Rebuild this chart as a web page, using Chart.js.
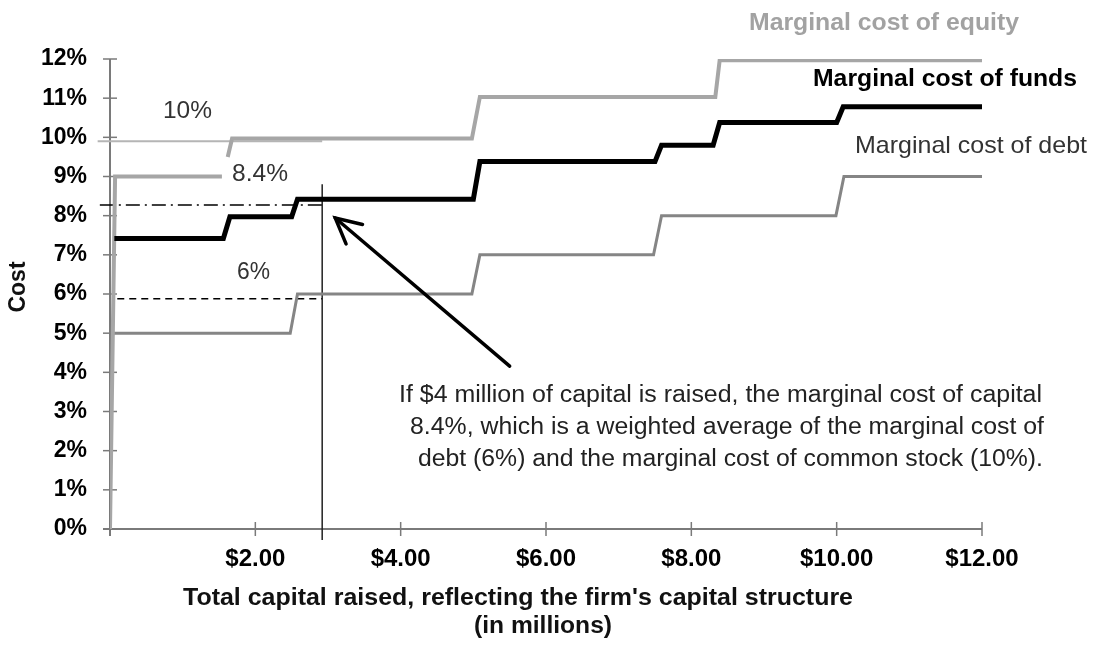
<!DOCTYPE html>
<html><head><meta charset="utf-8">
<script src="https://cdn.jsdelivr.net/npm/chart.js@4.4.1/dist/chart.umd.min.js"></script>
<style>html,body{margin:0;padding:0;background:#fff;}#wrap{width:1093px;height:646px;}</style>
</head><body><div id="wrap"><canvas id="c" width="1093" height="646"></canvas></div>
<script>
// ---- data ----
const xTickValues = [2, 4, 6, 8, 10, 12];
const xTickLabels = ['$2.00', '$4.00', '$6.00', '$8.00', '$10.00', '$12.00'];
const yTickValues = [0,1,2,3,4,5,6,7,8,9,10,11,12];
const yTickLabels = ['0%','1%','2%','3%','4%','5%','6%','7%','8%','9%','10%','11%','12%'];

const fundsX = [0.06, 1.56, 1.65, 2.5, 2.58, 5.0, 5.09, 7.5, 7.59, 8.3, 8.39, 10.0, 10.09, 12];
const fundsY = [7.42, 7.42, 7.97, 7.97, 8.42, 8.42, 9.38, 9.38, 9.8, 9.8, 10.38, 10.38, 10.78, 10.78];

const equityX = [0, 0.07, 1.54, 1.58, 1.62, 1.68, 4.98, 5.09, 8.33, 8.39, 12];
const equityY = [0, 9, 9, null, 9.5, 9.97, 9.97, 11.03, 11.03, 11.97, 11.97];

const debtX = [0.05, 2.48, 2.58, 4.98, 5.09, 7.48, 7.59, 9.99, 10.1, 12];
const debtY = [5, 5, 6, 6, 7, 7, 8, 8, 9, 9];

const equityRefX = [-0.17, 2.92], equityRefY = [9.9, 9.9];
const fundsRefX = [-0.14, 2.92], fundsRefY = [8.27, 8.27];
const debtRefX = [0.1, 2.92], debtRefY = [5.88, 5.88];
const raisedX = [2.92, 2.92], raisedY = [8.8, -0.28];

const arrowFrom = [5.5, 4.16], arrowTo = [3.1, 7.94];

const zip = (xs, ys) => xs.map((x, i) => ({x: x, y: ys[i]}));

const FONT = '"Liberation Sans", Arial, Helvetica, sans-serif';

function fitText(ctx, txt, left, right, cy, font, color) {
  ctx.save();
  ctx.font = font;
  ctx.fillStyle = color;
  ctx.textBaseline = 'middle';
  ctx.textAlign = 'left';
  const w = ctx.measureText(txt).width;
  const s = (right - left) / w;
  ctx.translate(left, cy);
  ctx.scale(s, 1);
  ctx.fillText(txt, 0, 0);
  ctx.restore();
}

const decor = {
  id: 'decor',
  beforeDatasetsDraw(chart) {
    const {ctx, scales: {x, y}} = chart;
    const x0 = x.getPixelForValue(0), y0 = y.getPixelForValue(0);
    const ln = (a, b, c, d) => { ctx.beginPath(); ctx.moveTo(a, b); ctx.lineTo(c, d); ctx.stroke(); };
    ctx.save();
    ctx.strokeStyle = '#7a7a7a';
    ctx.lineWidth = 2;
    ln(x0, y0 + 7, x0, y.getPixelForValue(12));
    ln(x0 - 7, y0, x.getPixelForValue(12), y0);
    ctx.lineWidth = 1.5;
    yTickValues.forEach(v => { const p = y.getPixelForValue(v); ln(x0 - 7, p, x0 + 7, p); });
    [0].concat(xTickValues).forEach(v => { const p = x.getPixelForValue(v); ln(p, y0 - 7, p, y0 + 7); });
    ctx.restore();
  },
  afterDraw(chart) {
    const {ctx, scales: {x, y}} = chart;
    // arrow
    const tx = x.getPixelForValue(arrowTo[0]), ty = y.getPixelForValue(arrowTo[1]);
    const fx = x.getPixelForValue(arrowFrom[0]), fy = y.getPixelForValue(arrowFrom[1]);
    ctx.save();
    ctx.strokeStyle = '#000';
    ctx.lineWidth = 3.5;
    ctx.lineCap = 'round';
    ctx.beginPath(); ctx.moveTo(fx, fy); ctx.lineTo(tx, ty); ctx.stroke();
    const ang = Math.atan2(fy - ty, fx - tx);
    const hl = 28, ha = 27 * Math.PI / 180;
    ctx.beginPath();
    ctx.moveTo(tx + hl * Math.cos(ang - ha), ty + hl * Math.sin(ang - ha));
    ctx.lineTo(tx, ty);
    ctx.lineTo(tx + hl * Math.cos(ang + ha), ty + hl * Math.sin(ang + ha));
    ctx.stroke();
    ctx.restore();

    // series labels
    fitText(ctx, 'Marginal cost of equity', 749, 1019, 23, 'bold 24px ' + FONT, '#a2a2a2');
    fitText(ctx, 'Marginal cost of funds', 813, 1077, 79, 'bold 24px ' + FONT, '#000');
    fitText(ctx, 'Marginal cost of debt', 855, 1087, 146, '24px ' + FONT, '#333');
    fitText(ctx, '10%', 163, 212, 111, '24px ' + FONT, '#333');
    fitText(ctx, '8.4%', 232, 288, 174, '24px ' + FONT, '#333');
    fitText(ctx, '6%', 237, 270, 272, '24px ' + FONT, '#333');

    // annotation
    const af = '23px ' + FONT;
    fitText(ctx, 'If $4 million of capital is raised, the marginal cost of capital', 399, 1042, 396, af, '#222');
    fitText(ctx, '8.4%, which is a weighted average of the marginal cost of', 410, 1044, 428, af, '#222');
    fitText(ctx, 'debt (6%) and the marginal cost of common stock (10%).', 418, 1043, 460, af, '#222');

    // axis titles
    fitText(ctx, "Total capital raised, reflecting the firm's capital structure", 183, 853, 599, 'bold 23px ' + FONT, '#111');
    fitText(ctx, '(in millions)', 474, 612, 627, 'bold 23px ' + FONT, '#111');
    ctx.save();
    ctx.translate(19, 287);
    ctx.rotate(-Math.PI / 2);
    ctx.font = 'bold 23px ' + FONT;
    ctx.fillStyle = '#111';
    ctx.textAlign = 'center';
    ctx.textBaseline = 'middle';
    ctx.fillText('Cost', 0, 0);
    ctx.restore();
  }
};

const base = {pointRadius: 0, pointHoverRadius: 0, tension: 0, fill: false, borderJoinStyle: 'miter', borderCapStyle: 'butt', spanGaps: false};

new Chart(document.getElementById('c'), {
  type: 'line',
  data: {
    datasets: [
      Object.assign({}, base, {label: 'Marginal cost of funds', data: zip(fundsX, fundsY), borderColor: '#000', borderWidth: 5}),
      Object.assign({}, base, {label: 'Marginal cost of equity', data: zip(equityX, equityY), borderColor: '#a6a6a6', borderWidth: 4}),
      Object.assign({}, base, {label: 'Marginal cost of debt', data: zip(debtX, debtY), borderColor: '#858585', borderWidth: 3}),
      Object.assign({}, base, {label: 'funds ref', data: zip(fundsRefX, fundsRefY), borderColor: '#000', borderWidth: 1.5, borderDash: [14, 5, 2, 5], clip: false}),
      Object.assign({}, base, {label: 'debt ref', data: zip(debtRefX, debtRefY), borderColor: '#000', borderWidth: 1.5, borderDash: [7, 5], clip: false}),
      Object.assign({}, base, {label: 'equity ref', data: zip(equityRefX, equityRefY), borderColor: '#b5b5b5', borderWidth: 2, clip: false}),
      Object.assign({}, base, {label: 'raised', data: zip(raisedX, raisedY), borderColor: '#222', borderWidth: 1.5, clip: false})
    ]
  },
  options: {
    responsive: false,
    devicePixelRatio: 1,
    animation: false,
    events: [],
    layout: {padding: {left: 0, right: 111, top: 59, bottom: 0}},
    plugins: {legend: {display: false}, tooltip: {enabled: false}, title: {display: false}},
    scales: {
      x: {
        type: 'linear', min: 0, max: 12,
        afterFit(s) { s.height = 117; },
        afterBuildTicks(s) { s.ticks = [0].concat(xTickValues).map(v => ({value: v})); },
        grid: {display: false, drawTicks: false},
        border: {display: false},
        ticks: {
          autoSkip: false, maxRotation: 0, minRotation: 0, padding: 16,
          color: '#000', font: {family: FONT, size: 24, weight: 'bold'},
          callback(v) { const i = xTickValues.indexOf(v); return i >= 0 ? xTickLabels[i] : ''; }
        }
      },
      y: {
        type: 'linear', min: 0, max: 12,
        afterFit(s) { s.width = 110; },
        afterBuildTicks(s) { s.ticks = yTickValues.map(v => ({value: v})); },
        grid: {display: false, drawTicks: false},
        border: {display: false},
        ticks: {
          autoSkip: false, padding: 23,
          color: '#000', font: {family: FONT, size: 23, weight: 'bold'},
          callback(v) { const i = yTickValues.indexOf(v); return i >= 0 ? yTickLabels[i] : ''; }
        }
      }
    }
  },
  plugins: [decor]
});
</script></body></html>
